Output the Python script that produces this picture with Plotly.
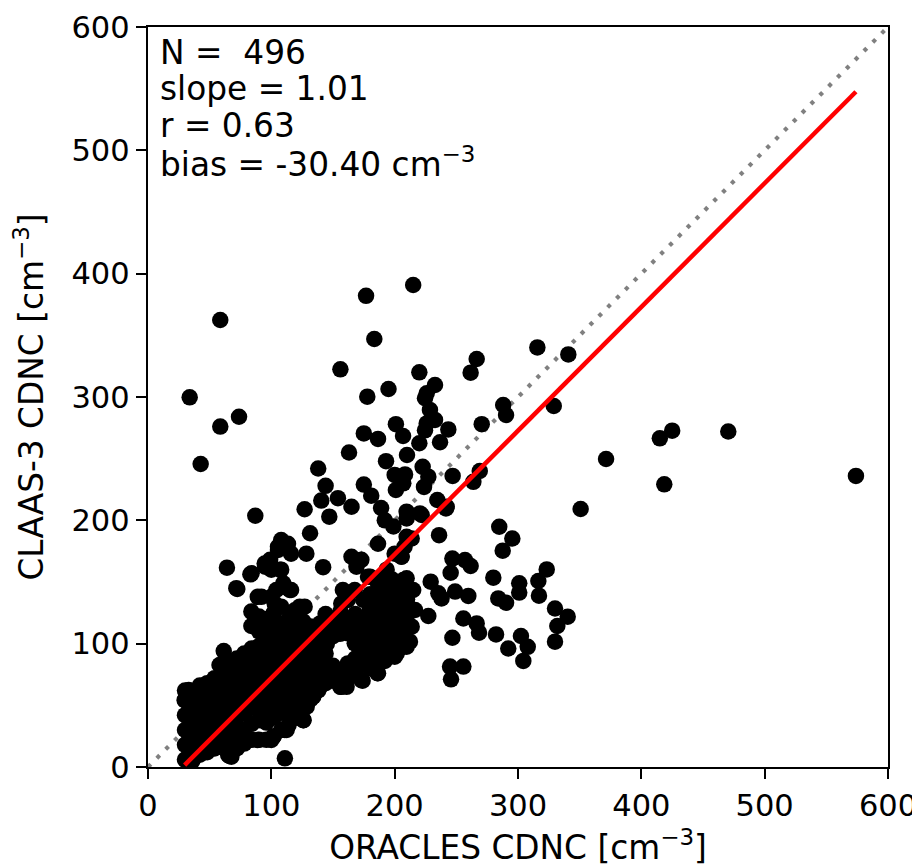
import plotly.graph_objects as go

# ---- data (ORACLES CDNC, CLAAS-3 CDNC) ----
scatter_high = [
    (33.8, 299.7), (58.6, 362.4), (58.6, 276), (73.8, 284), (42.7, 245.7), (87, 203.7),
    (176.8, 382), (183.5, 347), (156, 322.4), (195, 306.5), (177.8, 300.3), (215, 390.8),
    (201, 278), (175, 270.5), (186.5, 266), (206.8, 268.4), (163, 255), (193, 248), (210, 253),
    (138, 242), (200, 236.8), (144, 228), (175, 229), (181, 220), (154, 218), (140.5, 216),
    (165, 211), (127, 209), (189, 210), (201, 224.6), (147, 203),
    (315.7, 340.2), (340.8, 334.5), (266.5, 330.8), (261.6, 319.7), (220, 320), (232.7, 309.7),
    (226, 303), (224.6, 299), (288, 293.5), (290.3, 285.4), (329, 292.7), (228.6, 289.5),
    (232.7, 281.4), (226, 278.6), (243.5, 273.7), (270.6, 278), (224.6, 273), (236.8, 263.3),
    (220, 262.5), (222.7, 243.4), (208.4, 237.2), (227.3, 235.4), (247, 236), (269, 240),
    (263.8, 231.2), (223.8, 227.1), (207, 230), (234.6, 216.5), (241.6, 209.6), (209.7, 207),
    (220.5, 205.6),
]

scatter_right = [
    (371.4, 249.7), (415, 266.5), (425, 272.7), (470.5, 272), (418.6, 229.2), (350.8, 209.2),
    (574, 236),
    (284.8, 194.8), (295.4, 185.3), (287.6, 175.4), (236, 188), (246.8, 169), (257, 167.8),
    (261.6, 163), (245.4, 157.5), (323.3, 160.2), (280, 153.5), (316.5, 150.8), (301, 149),
    (301, 141.4), (317, 138.9), (229.2, 150.3), (235.4, 140.8), (238, 136.7), (249, 142.2),
    (259.7, 138.7), (284, 136.7), (290.3, 133.2), (330, 128.5), (340.3, 121.9), (331.9, 114.3),
    (330, 101.6), (227.3, 122.4), (255.7, 120.4), (266.5, 116.4), (268.4, 108.9), (246.8, 104.8),
    (282.2, 107.5), (302.4, 106.2), (307.9, 97.4), (292.1, 96.1), (304.3, 86), (244.9, 81.4),
    (255.7, 81.4), (245.7, 71.1), (212.4, 101.6), (213.8, 113.8), (209.7, 153), (215, 143.5),
    (209.7, 135.4), (216.5, 127.3), (209.7, 121.9), (205.7, 170.6), (213.8, 185.3),
    (209.7, 201.5), (221.9, 204.3), (242.2, 211),
]

scatter_mid = [
    (64, 161.6), (72.4, 144.3), (83, 156.2), (95, 162.4), (105.4, 176), (89, 138), (83.8, 126),
    (83.8, 114.3), (97.3, 95), (61.4, 94), (58, 82.7), (77, 86.8),
    (108, 184), (113.5, 181), (105.4, 178.6), (116, 173), (128.4, 173), (142, 162), (165, 170.5),
    (173, 168), (186.5, 181), (205.4, 170.5), (94.6, 165), (100, 160), (108, 160), (111, 146),
    (116, 143.5), (84, 157), (71.6, 145), (92, 138), (100, 138), (102.7, 132.6), (86.5, 122),
    (119, 127), (127, 130), (108, 113.8), (111, 105.6), (140.5, 113.8), (156.7, 132.6),
    (162, 135.4), (167.6, 143.5), (178.4, 154.3), (189, 151.6), (200, 173), (208, 178.6),
    (186.5, 140.8), (189, 127.3), (202.7, 122), (167.6, 100.3), (173, 92), (162, 108.4),
    (189, 89.4), (200, 89.4), (186.5, 76), (173, 70.5), (156.7, 65), (140.5, 70.5), (127, 59.7),
    (119, 43.5), (111, 30), (100, 21.9), (89, 21.9), (75.7, 19.2), (67.6, 8.4), (65, 19.2),
    (111, 7),
    (131.4, 189.5), (169, 162.4), (192, 200), (199, 195), (209.7, 186.7), (99, 168), (107, 160),
    (109.7, 149), (104, 143.5), (115, 143.5), (123, 130), (158, 143.5), (161, 135.4),
    (101.6, 113.8), (104.4, 103), (109.7, 97.5), (139.5, 116.4), (136.8, 108), (155.7, 108),
    (169, 116.4), (180, 119), (188, 122), (196, 124.6), (204, 119), (209.7, 130), (174.6, 135.4),
    (185.4, 138), (196, 135.4), (180, 154.3), (193.5, 160), (207, 151.6), (145, 100),
    (174.6, 97.5), (169, 103), (182.7, 86.8), (190.8, 89.4), (201.6, 92), (161, 65),
    (147.5, 70.5), (139.5, 65), (123, 70.5), (115, 65), (104.4, 70.5), (126, 81), (134, 86.8),
    (115, 86.8), (104.4, 84), (134, 57), (128.7, 49), (126, 38), (112.4, 30), (101.6, 24.6),
    (199, 92), (209.7, 97.5),
    (33, 62.4), (29.7, 54.3), (35, 46), (33.8, 24.6), (32.4, 7), (65, 9.7), (66, 20.5),
]

# dense core of the cloud, column by column (ORACLES value: CLAAS-3 values)
core_columns = {
    30: [6, 18, 30, 42, 54, 62],
    36: [5, 15, 25, 35, 45, 55],
    42: [10, 22, 34, 46, 58, 66],
    48: [12, 24, 36, 48, 60, 68],
    54: [15, 28, 40, 52, 64, 72],
    60: [20, 32, 44, 56, 68, 76],
    66: [9, 20, 30, 42, 54, 66, 78, 84],
    72: [15, 28, 40, 52, 64, 76, 88],
    78: [19, 30, 44, 56, 68, 80, 92],
    84: [22, 35, 48, 60, 72, 84, 96],
    90: [22, 38, 50, 62, 74, 86, 98, 110, 122],
    96: [22, 36, 48, 60, 72, 84, 96, 108, 120],
    102: [25, 40, 52, 64, 76, 88, 100, 112, 125],
    108: [30, 44, 56, 68, 80, 92, 104, 116, 130],
    114: [34, 48, 60, 72, 84, 96, 108, 120],
    120: [40, 52, 64, 76, 88, 100, 112],
    126: [38, 50, 60, 72, 84, 96, 108, 118],
    132: [55, 66, 78, 90, 102, 114],
    138: [62, 74, 86, 98, 110],
    144: [68, 80, 92, 104, 116, 124],
    150: [70, 82, 106, 118],
    156: [65, 78, 114, 126],
    162: [72, 84, 112, 120],
    168: [76, 88, 108, 124],
    174: [70, 84, 108, 120],
    180: [80, 92, 104, 116, 128, 140],
    186: [76, 88, 100, 112, 124, 150],
    192: [86, 98, 110, 122, 134, 146],
    198: [92, 104, 116, 128, 140, 152],
    204: [96, 108, 120, 132, 144],
    210: [100, 114, 125, 136],
}

fit_slope = 1.003
fit_intercept = -28.2
stats_lines = ["N =\u00a0 496", "slope = 1.01", "r = 0.63", "bias = -30.40 cm<sup>\u22123</sup>"]
tick_vals = [0, 100, 200, 300, 400, 500, 600]

# ---- assemble ----
oracles = []
claas = []
for group in (scatter_high, scatter_right, scatter_mid):
    for xv, yv in group:
        oracles.append(xv)
        claas.append(yv)
for xv, ys in core_columns.items():
    for yv in ys:
        oracles.append(xv)
        claas.append(yv)

xmin, xmax = min(oracles), max(oracles)
fit_x = [xmin, xmax]
fit_y = [fit_slope * v + fit_intercept for v in fit_x]

FONT = "DejaVu Sans"
FS = 30.5      # tick labels
FS_T = 32.8    # axis titles and statistics text
fig = go.Figure()
fig.add_trace(go.Scatter(x=[0, 600], y=[0, 600], mode="lines",
                         line=dict(color="#808080", width=4.2, dash="4px,8.5px"),
                         hoverinfo="skip", showlegend=False))
fig.add_trace(go.Scatter(x=oracles, y=claas, mode="markers",
                         marker=dict(color="black", size=16.5, line=dict(width=0)),
                         showlegend=False))
fig.add_trace(go.Scatter(x=fit_x, y=fit_y, mode="lines",
                         line=dict(color="red", width=4.5), showlegend=False))

ys_text = [579, 549.5, 520, 490.5]
for txt, yv in zip(stats_lines, ys_text):
    fig.add_annotation(x=8.0, y=yv, xref="x", yref="y", text=txt, showarrow=False,
                       xanchor="left", yanchor="middle",
                       font=dict(family=FONT, size=FS_T, color="black"))

axis_common = dict(range=[0, 600], tickvals=tick_vals, ticks="outside", ticklen=10,
                   tickwidth=2.4, tickcolor="black", showline=True, linecolor="black",
                   linewidth=2.4, mirror=True, showgrid=False, zeroline=False,
                   tickfont=dict(family=FONT, size=FS, color="black"))

fig.update_xaxes(**axis_common,
                 title=dict(text="ORACLES CDNC [cm<sup>\u22123</sup>]",
                            font=dict(family=FONT, size=FS_T, color="black"), standoff=14))
fig.update_yaxes(**axis_common,
                 title=dict(text="CLAAS-3 CDNC [cm<sup>\u22123</sup>]",
                            font=dict(family=FONT, size=FS_T, color="black"), standoff=24))

# page body adds an 8 px offset at top-left, so the figure is 8 px smaller
fig.update_layout(width=912, height=860, plot_bgcolor="white", paper_bgcolor="white",
                  margin=dict(l=140, r=32, t=19, b=101, autoexpand=False),
                  font=dict(family=FONT, size=FS, color="black"))

fig.write_html("out.html")
